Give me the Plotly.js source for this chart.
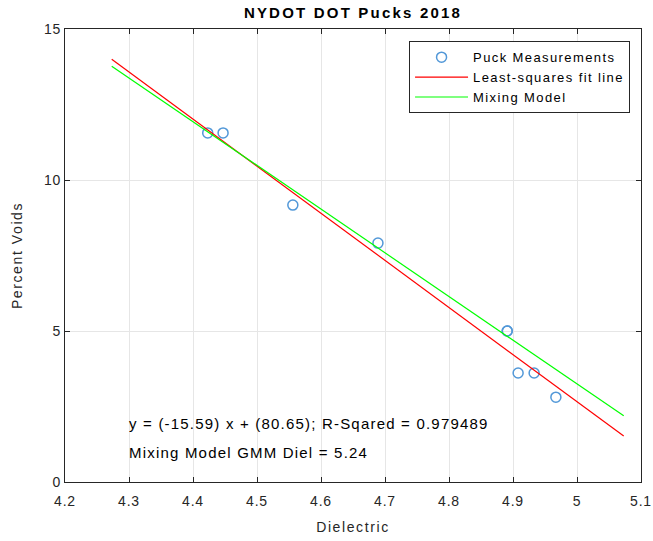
<!DOCTYPE html>
<html><head><meta charset="utf-8">
<script src="https://cdn.plot.ly/plotly-3.0.1.min.js"></script>
<style>
html,body{margin:0;padding:0;background:#fff}
.gtitle{letter-spacing:2.2px}
.annotation-text{letter-spacing:1.2px}
.legendtext{letter-spacing:1.4px}
.xtitle,.ytitle{letter-spacing:1.6px}
.xtick text,.ytick text{letter-spacing:0.8px}
</style>
</head><body><div id="chart" style="width:653px;height:541px"></div>
<script>
const dielectric = [4.423, 4.447, 4.556, 4.689, 4.891, 4.891, 4.908, 4.933, 4.967];
const percentVoids = [11.56, 11.56, 9.17, 7.91, 5.0, 5.0, 3.61, 3.61, 2.81];
const fitX = [4.273, 5.073];
const fitY = [14.0, 1.52];
const mixX = [4.273, 5.073];
const mixY = [13.77, 2.19];
const xTicks = [4.2, 4.3, 4.4, 4.5, 4.6, 4.7, 4.8, 4.9, 5, 5.1];
const xTickText = ['4.2','4.3','4.4','4.5','4.6','4.7','4.8','4.9','5','5.1'];
const yTicks = [0, 5, 10, 15];
const fitText = 'y = (-15.59) x + (80.65); R-Sqared = 0.979489';
const mixText = 'Mixing Model GMM Diel = 5.24';

const FAM = 'Liberation Sans, Arial, sans-serif';
const tickFont = {family: FAM, size: 14, color: '#262626'};
const titleFont = {family: FAM, size: 14, color: '#262626'};
const traces = [
  {x: dielectric, y: percentVoids, mode: 'markers', type: 'scatter', name: 'Puck Measurements',
   marker: {symbol: 'circle-open', size: 10, color: '#5298d8', line: {width: 1.5}}},
  {x: fitX, y: fitY, mode: 'lines', type: 'scatter', name: 'Least-squares fit line',
   line: {color: '#ff0000', width: 1.2}},
  {x: mixX, y: mixY, mode: 'lines', type: 'scatter', name: 'Mixing Model',
   line: {color: '#00ff00', width: 1.2}}
];
const axisCommon = {showline: true, mirror: 'ticks', linecolor: '#262626', linewidth: 1,
  ticks: 'inside', ticklen: 5, tickcolor: '#262626', showgrid: true, gridcolor: '#e6e6e6',
  zeroline: false, tickfont: tickFont};
const layout = {
  width: 653, height: 541,
  margin: {l: 65, r: 12, t: 29, b: 59},
  paper_bgcolor: '#ffffff', plot_bgcolor: '#ffffff',
  font: tickFont,
  title: {text: '<b>NYDOT DOT Pucks 2018</b>', xref: 'paper', x: 0.5, xanchor: 'center', y: 0.987, yanchor: 'top',
          font: {family: FAM, size: 15, color: '#000'}},
  xaxis: Object.assign({}, axisCommon, {range: [4.2, 5.1], tickvals: xTicks, ticktext: xTickText,
    ticklabelstandoff: 6, title: {text: 'Dielectric', standoff: 14, font: titleFont}}),
  yaxis: Object.assign({}, axisCommon, {range: [0, 15], tickvals: yTicks,
    ticklabelstandoff: 0, title: {text: 'Percent Voids', standoff: 18, font: titleFont}}),
  legend: {x: 0.981, y: 0.973, xanchor: 'right', yanchor: 'top', bgcolor: '#ffffff',
    bordercolor: '#262626', borderwidth: 1, itemwidth: 53, tracegroupgap: 0,
    font: {family: FAM, size: 13, color: '#000'}},
  showlegend: true,
  annotations: [
    {x: 4.297, y: 1.95, xref: 'x', yref: 'y', text: fitText, showarrow: false, xanchor: 'left', yanchor: 'middle',
     font: {family: FAM, size: 15, color: '#000'}},
    {x: 4.297, y: 0.99, xref: 'x', yref: 'y', text: mixText, showarrow: false, xanchor: 'left', yanchor: 'middle',
     font: {family: FAM, size: 15, color: '#000'}}
  ]
};
Plotly.newPlot('chart', traces, layout, {displayModeBar: false, staticPlot: true});
</script></body></html>
